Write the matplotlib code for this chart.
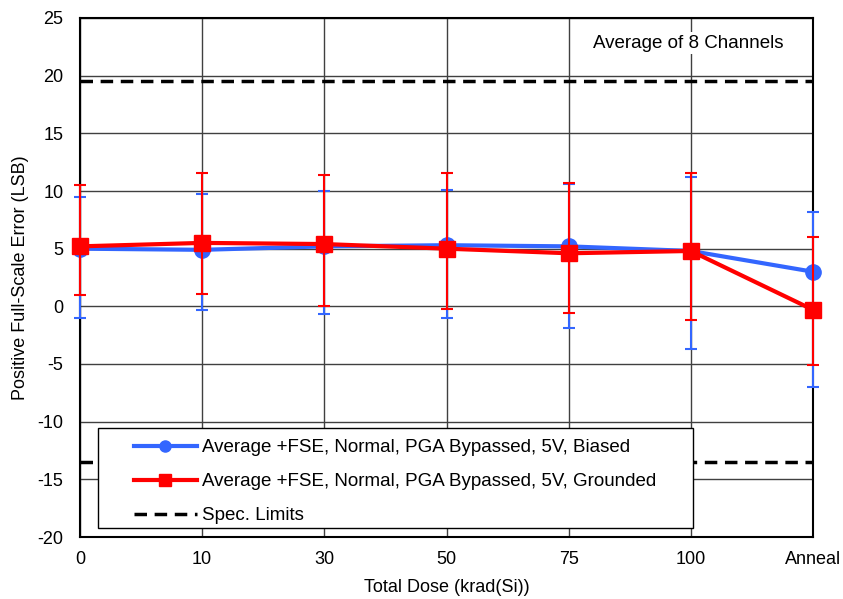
import matplotlib
matplotlib.use("Agg")
import matplotlib.pyplot as plt
from matplotlib.patches import Rectangle
from matplotlib.lines import Line2D
import numpy as np

plt.rcParams['font.family'] = ['Liberation Sans', 'DejaVu Sans']
plt.rcParams['axes.unicode_minus'] = False

categories = ["0", "10", "30", "50", "75", "100", "Anneal"]

biased_mean = [5.0, 4.9, 5.2, 5.3, 5.2, 4.8, 3.0]
biased_upper = [9.5, 9.7, 10.0, 10.1, 10.6, 11.2, 8.2]
biased_lower = [-1.05, -0.3, -0.7, -1.0, -1.85, -3.7, -7.0]

grounded_mean = [5.2, 5.5, 5.4, 5.0, 4.6, 4.8, -0.3]
grounded_upper = [10.5, 11.6, 11.4, 11.6, 10.7, 11.6, 6.0]
grounded_lower = [1.0, 1.1, 0.0, -0.2, -0.55, -1.2, -5.1]

spec_upper = 19.5
spec_lower = -13.5

labels = ["Average +FSE, Normal, PGA Bypassed, 5V, Biased",
          "Average +FSE, Normal, PGA Bypassed, 5V, Grounded",
          "Spec. Limits"]

fig = plt.figure(figsize=(8.43, 5.99), dpi=100)
ax = fig.add_axes([80/843, 1-537/599, 733/843, 519/599])

x = np.arange(len(categories))

def err(mean, lo, hi):
    m = np.array(mean); return [m - np.array(lo), np.array(hi) - m]

blue = '#3366FF'
red = '#FF0000'
dash = (3.6, 2.2)

ax.errorbar(x, biased_mean, yerr=err(biased_mean, biased_lower, biased_upper),
            color=blue, lw=3, marker='o', ms=11, ecolor=blue, elinewidth=1.5,
            capsize=4, capthick=1.5, zorder=3, clip_on=False)
ax.errorbar(x, grounded_mean, yerr=err(grounded_mean, grounded_lower, grounded_upper),
            color=red, lw=3, marker='s', ms=11, ecolor=red, elinewidth=1.5,
            capsize=4, capthick=1.5, zorder=4, clip_on=False)

ax.plot([x[0], x[-1]], [spec_upper, spec_upper], color='black', lw=2.5,
        dashes=dash, zorder=2)
ax.plot([x[0], x[-1]], [spec_lower, spec_lower], color='black', lw=2.5,
        dashes=dash, zorder=2)

ax.set_xlim(0, len(categories) - 1)
ax.set_ylim(-20, 25)
ax.set_yticks(np.arange(-20, 26, 5))
ax.set_xticks(x)
ax.set_xticklabels(categories)
ax.tick_params(length=0, labelsize=13)
ax.tick_params(axis='y', pad=12)
ax.tick_params(axis='x', pad=10)
ax.grid(True, color='#404040', lw=1, zorder=1)
ax.set_axisbelow(True)
for s in ax.spines.values():
    s.set_linewidth(1.5)
    s.set_color('black')

ax.set_xlabel("Total Dose (krad(Si))", fontsize=13, labelpad=8)
ax.set_ylabel("Positive Full-Scale Error (LSB)", fontsize=13, labelpad=6)

ax.text((688-80)/733, (537-43)/519, "Average of 8 Channels", transform=ax.transAxes,
        ha='center', va='center', fontsize=13.5,
        bbox=dict(facecolor='white', edgecolor='none', pad=2))

rect = Rectangle((17.5/733, 9/519), 595/733, 100/519, transform=ax.transAxes,
                 facecolor='white', edgecolor='black', lw=1, zorder=5)
ax.add_patch(rect)
handles = [
    Line2D([], [], color=blue, lw=3, marker='o', ms=8),
    Line2D([], [], color=red, lw=3, marker='s', ms=8),
    Line2D([], [], color='black', lw=2.5, dashes=dash),
]
leg = ax.legend(handles, labels, loc='upper left',
                bbox_to_anchor=((133.5-80)/733, (537-439)/519),
                frameon=False, fontsize=13.5, handlelength=3.4, handletextpad=0.25,
                labelspacing=0.9, borderpad=0, borderaxespad=0)
leg.set_zorder(6)

fig.savefig("out.png", dpi=100)
